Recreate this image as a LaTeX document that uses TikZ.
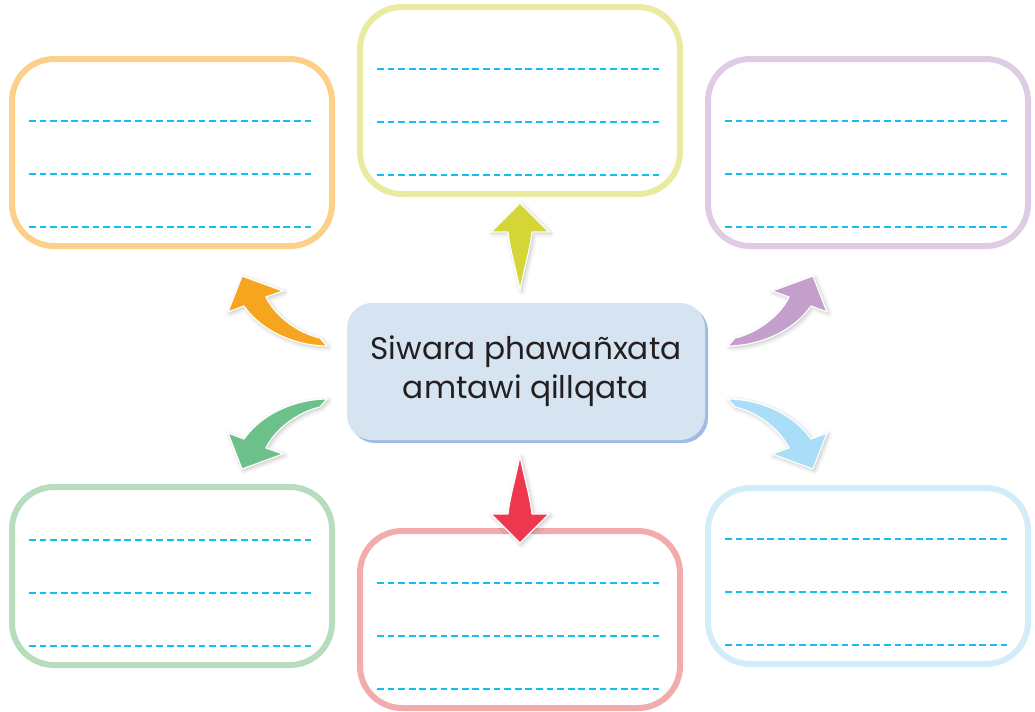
\documentclass[tikz,border=0pt]{standalone}
\usepackage{fontspec}
\setmainfont{Poppins}
\usepackage{tikz}
\usetikzlibrary{calc,shadows,shadows.blur}
\definecolor{ink}{HTML}{231F20}
\definecolor{hubfill}{HTML}{D6E4F2}
\definecolor{hubedge}{HTML}{9DBDE2}
\definecolor{penblue}{HTML}{12BEF2}
\definecolor{boxor}{HTML}{FDD08A}
\definecolor{boxye}{HTML}{E9EBA1}
\definecolor{boxpu}{HTML}{DFCBE3}
\definecolor{boxgr}{HTML}{B6DDBE}
\definecolor{boxpk}{HTML}{F2ACAC}
\definecolor{boxbl}{HTML}{D3ECFA}
\definecolor{aror}{HTML}{F6A51F}
\definecolor{arye}{HTML}{D3D636}
\definecolor{arpu}{HTML}{C49FCB}
\definecolor{argr}{HTML}{6CC18A}
\definecolor{arrd}{HTML}{EE3850}
\definecolor{arbl}{HTML}{A9DDF8}
\tikzset{fig/.style={line join=round,x=0.5pt,y=-0.5pt},
  card/.style={draw=#1,line width=3pt,rounded corners=21pt,minimum width=160pt,inner sep=0pt},
  lined/.style={penblue,line width=1pt,dash pattern=on 3.4pt off 1.9pt},
  hub/.style={fill=hubfill,rounded corners=12.5pt,minimum width=179pt,minimum height=68.5pt,
    align=center,text=ink,font=\fontsize{15.6}{19.5}\selectfont,
    copy shadow={shadow xshift=1.5pt,shadow yshift=-1.5pt,fill=hubedge,draw=none,opacity=1}},
  blob/.style={fill=#1,draw=white,line width=0.6pt,
    blur shadow={shadow xshift=0.8pt,shadow yshift=-0.8pt,shadow opacity=25,shadow blur steps=4}},
  curvy/.pic={\path[blob=#1](1,0) .. controls (-28,0) and (-63,-13) .. (-82,-40)--(-98,-34)--(-84,-70)
    --(-43,-55)--(-60,-49) .. controls (-51,-30) and (-28,-13) .. (-6,-8)--cycle;},
  spike/.pic={\path[blob=#1](0,0) .. controls (-5,-25) and (-10,-40) .. (-12,-58)--(-29,-58)--(0,-87)
    --(29,-58)--(12,-58) .. controls (10,-40) and (5,-25) .. (0,0)--cycle;}}
\begin{document}
\begin{tikzpicture}[fig]
  \useasboundingbox(0,0)rectangle(1035,712);
  \node[card=boxor,minimum height=93.5pt](tl)at(172,152.5){};
  \node[card=boxye,minimum height=93.5pt](tc)at(520,100.5){};
  \node[card=boxpu,minimum height=93.5pt](tr)at(868,152.5){};
  \node[card=boxgr,minimum height=89pt](bl)at(172,576){};
  \node[card=boxpk,minimum height=88.5pt](bc)at(520,619.5){};
  \node[card=boxbl,minimum height=88pt](br)at(868,576){};
  \foreach \b in {tl,tc,tr,bl,bc,br}
    \foreach \d in {22,75,128}
      \draw[lined]($(\b.south west)+(20,-\d)$)--($(\b.south east)+(-20,-\d)$);
  \node[hub](hub)at(526,371.5){Siwara phawañxata\\amtawi qillqata};
  \pic at(520,290){spike=arye};
  \pic[yscale=-1] at(520,456){spike=arrd};
  \pic at(326,346){curvy=aror};
  \pic[xscale=-1] at(729,346){curvy=arpu};
  \pic[yscale=-1] at(326,399){curvy=argr};
  \pic[xscale=-1,yscale=-1] at(729,399){curvy=arbl};
\end{tikzpicture}
\end{document}
